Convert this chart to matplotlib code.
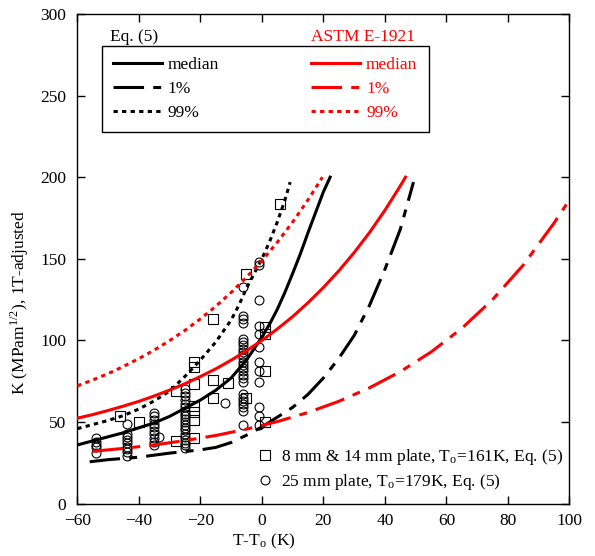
import numpy as np
import matplotlib.pyplot as plt
from matplotlib.lines import Line2D

plt.rcParams['font.family'] = ['Liberation Serif', 'DejaVu Serif']
plt.rcParams['mathtext.fontset'] = 'stix'
plt.rcParams['font.size'] = 12.5

# Eq. (5) curves
eq_med_T = [-60, -55, -50, -45, -40, -35, -30, -25, -20, -15, -10, -5, 0, 2.5, 5, 7.5, 10, 12.5, 15, 17.5, 20, 22.2]
eq_med_K = [36, 38.5, 41, 43.5, 46.5, 49.5, 53.5, 58.5, 63.5, 69.5, 77, 88, 102, 110, 119, 129.5, 141, 153,
            166, 178.5, 191, 200]
eq_01_T = [-56, -50, -40, -30, -20, -15, -10, -5, 0, 5, 10, 15, 20, 25, 30, 35, 40, 45, 49.3]
eq_01_K = [25.7, 27, 28.5, 31, 33, 34.5, 37.5, 42, 47, 53, 59, 67, 77, 89, 103, 121.5, 143.5, 168, 197]
eq_99_T = [-60, -55, -50, -45, -40, -35, -30, -25, -20, -15, -10, -7.5, -5, -2.5, 0, 2.5, 5, 7.5, 9.2]
eq_99_K = [46, 48.5, 51, 54, 58, 63, 69, 78, 88, 99, 112.5, 121.5, 132, 141, 150, 160.5, 172.5, 186, 197]

# ASTM E-1921 curves
astm_med_T = [-60, -55, -50, -45, -40, -35, -30, -25, -20, -15, -10, -5, 0, 5, 10, 15, 20, 25, 30, 35, 40, 45, 46.7]
astm_med_K = [52.4, 54.6, 57.1, 59.8, 62.7, 66.0, 69.6, 73.5, 77.9, 82.6, 87.9, 93.7, 100, 107.0, 114.6, 123.1,
              132.4, 142.6, 153.8, 166.1, 179.7, 194.6, 200]
astm_01_T = [-55, -45, -35, -25, -15, -5, 5, 15, 25, 35, 45, 55, 65, 75, 85, 95, 99]
astm_01_K = [32.1, 33.9, 36.0, 38.7, 41.8, 45.7, 50.3, 55.9, 62.7, 71.0, 80.9, 92.9, 107.4, 125.0, 146.2, 171.9, 183.3]
astm_99_T = [-60, -55, -50, -45, -40, -35, -30, -25, -20, -15, -10, -5, 0, 5, 10, 15, 19.7]
astm_99_K = [72.2, 75.8, 79.7, 84.1, 88.9, 94.1, 99.9, 106.2, 113.2, 120.9, 129.4, 138.7, 148.9, 160.1, 172.5, 186.1, 200]

# 8 mm & 14 mm plate data
sq_T = [-46, -40, -28, -28, -22, -22, -22, -22, -22, -22, -22, -16, -16, -16, -11, -5, -5, 1, 1, 1, 1, 6]
sq_K = [54, 50, 69, 38.5, 86.5, 83.5, 73.5, 60, 56, 51, 40, 113, 75.5, 65, 74, 64.5, 140.5, 108, 104, 81, 50, 183.5]

# 25 mm plate data, grouped by test temperature
circ_cols = [-54, -44, -35, -33.5, -25, -12, -6, -1]
circ_vals = [
    [40, 38, 36, 34.5, 31],
    [49, 43, 41, 39, 37, 35, 33.5, 31.5, 29],
    [55.5, 53.5, 51.5, 49, 47, 44.5, 42.5, 40.5, 38, 36],
    [41],
    [70, 68, 66, 63.5, 61, 59, 57, 55, 53.5, 52, 50, 48, 46.5, 45, 43, 41, 39, 37.5, 36, 34],
    [62],
    [132.5, 115, 113, 110.5, 101, 99, 97, 95, 93, 91, 89, 87, 85, 83, 81, 79, 77, 74.5,
     67.5, 65, 63, 61, 59, 57, 48],
    [148, 146, 125, 109, 104, 96, 87, 81.5, 74.5, 59, 54, 48],
]
circ_T = np.concatenate([[t] * len(v) for t, v in zip(circ_cols, circ_vals)])
circ_K = np.concatenate(circ_vals)

fig = plt.figure(figsize=(5.95, 5.56), dpi=100)
ax = fig.add_axes([0.130, 0.094, 0.827, 0.881])

lw = 2.2
dash1 = (10, 3, 2.6, 3)
dot = (1.4, 1.4)

ax.plot(circ_T, circ_K, 'o', mfc='none', mec='k', ms=6.4, mew=0.8, zorder=2)
ax.plot(sq_T, sq_K, 's', mfc='none', mec='k', ms=6.6, mew=0.8, zorder=2)

l1, = ax.plot(eq_med_T, eq_med_K, color='k', lw=lw, label='median', zorder=3)
l2, = ax.plot(eq_01_T, eq_01_K, color='k', lw=lw, dashes=dash1, label='1%', zorder=3)
l3, = ax.plot(eq_99_T, eq_99_K, color='k', lw=lw, dashes=dot, label='99%', zorder=3)
l4, = ax.plot(astm_med_T, astm_med_K, color='red', lw=lw, label='median', zorder=3)
l5, = ax.plot(astm_01_T, astm_01_K, color='red', lw=lw, dashes=dash1, label='1%', zorder=3)
l6, = ax.plot(astm_99_T, astm_99_K, color='red', lw=lw, dashes=dot, label='99%', zorder=3)

ax.set_xlim(-60, 100)
ax.set_ylim(0, 300)
ax.set_xticks(np.arange(-60, 101, 20))
ax.set_yticks(np.arange(0, 301, 50))
ax.tick_params(direction='in', top=True, right=True, length=6, width=1, labelsize=12.5)
ax.tick_params(axis='x', pad=7)
ax.tick_params(axis='y', pad=8)
for s in ax.spines.values():
    s.set_linewidth(1)

ax.set_xlabel(r'T-T$_\mathregular{o}$ (K)', fontsize=12.5)
ax.xaxis.set_label_coords(0.38, -0.057)
ax.set_ylabel(r'K (MPam$^{\mathregular{1/2}}$), 1T-adjusted', fontsize=12.5)
ax.yaxis.set_label_coords(-0.095, 0.41)

leg = ax.legend(handles=[l1, l2, l3, l4, l5, l6], ncol=2,
                bbox_to_anchor=(0.05, 0.935), loc='upper left',
                fancybox=False, framealpha=1, edgecolor='k', handlelength=2.8,
                handletextpad=0.35, columnspacing=5.3, labelspacing=0.45,
                borderpad=0.65, borderaxespad=0, fontsize=12.5)
leg.get_frame().set_linewidth(1)
for t, c in zip(leg.get_texts(), ['k', 'k', 'k', 'red', 'red', 'red']):
    t.set_color(c)
ax.add_artist(leg)

ax.text(0.067, 0.953, 'Eq. (5)', transform=ax.transAxes, fontsize=12.5, va='center')
ax.text(0.686, 0.953, 'ASTM E-1921', transform=ax.transAxes, fontsize=12.5, va='center',
        ha='right', color='red')

mk = [Line2D([], [], ls='none', marker='s', mfc='none', mec='k', ms=6.6, mew=0.8),
      Line2D([], [], ls='none', marker='o', mfc='none', mec='k', ms=6.4, mew=0.8)]
ax.legend(mk, [r'8 mm & 14 mm plate, T$_\mathregular{o}$=161K, Eq. (5)',
               r'25 mm plate, T$_\mathregular{o}$=179K, Eq. (5)'],
          loc='lower left', bbox_to_anchor=(0.35, 0.01), frameon=False,
          handlelength=1, handletextpad=0.4, labelspacing=0.3, fontsize=12.5, borderaxespad=0)

fig.savefig('out.png', dpi=100)
